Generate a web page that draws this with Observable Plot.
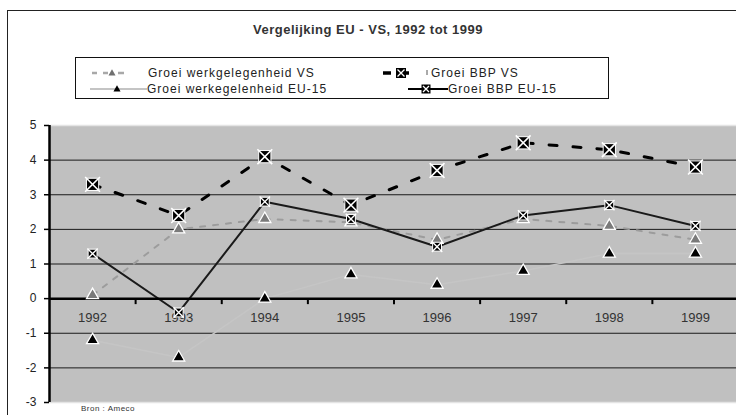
<!DOCTYPE html>
<html>
<head>
<meta charset="utf-8">
<script src="https://cdn.jsdelivr.net/npm/d3@7"></script>
<script src="https://cdn.jsdelivr.net/npm/@observablehq/plot@0.6"></script>
<style>
  html, body { margin: 0; padding: 0; background: #fff; }
  #wrap { position: relative; width: 736px; height: 415px; overflow: hidden; font-family: Arial, "Liberation Sans", sans-serif; }
  #frame { position: absolute; left: 7px; top: 10px; width: 760px; height: 420px; border-left: 1px solid #222; border-top: 1px solid #222; }
  #title { position: absolute; left: 190px; width: 356px; top: 22px; text-align: center; font-weight: bold; font-size: 13px; letter-spacing: 0.5px; color: #333; white-space: nowrap; }
  #legend { position: absolute; left: 75px; top: 57px; width: 534px; height: 42px; border: 1px solid #111; box-sizing: border-box; }
  .lg { position: absolute; font-size: 12px; letter-spacing: 1px; color: #222; white-space: nowrap; line-height: 14px; }
  #plot { position: absolute; left: 0; top: 110px; }
  #src { position: absolute; left: 81px; top: 404px; font-size: 8px; letter-spacing: 0.5px; color: #333; }
</style>
</head>
<body>
<div id="wrap">
  <div id="frame"></div>
  <div id="title">Vergelijking EU - VS, 1992 tot 1999</div>
  <div id="legend"></div>
  <div id="plot"></div>
  <div id="src">Bron : Ameco</div>
</div>
<script>
// ---- data ----
const years = [1992, 1993, 1994, 1995, 1996, 1997, 1998, 1999];
const werkVS = [0.1, 2.0, 2.3, 2.2, 1.7, 2.3, 2.1, 1.7];
const bbpVS = [3.3, 2.4, 4.1, 2.7, 3.7, 4.5, 4.3, 3.8];
const werkEU = [-1.2, -1.7, 0.0, 0.7, 0.4, 0.8, 1.3, 1.3];
const bbpEU = [1.3, -0.4, 2.8, 2.3, 1.5, 2.4, 2.7, 2.1];
const yTicks = [-3, -2, -1, 0, 1, 2, 3, 4, 5];
const xBounds = [1992.5, 1993.5, 1994.5, 1995.5, 1996.5, 1997.5, 1998.5];
const seriesNames = ["Groei werkgelegenheid VS", "Groei BBP VS", "Groei werkegelenheid EU-15", "Groei BBP EU-15"];

const mk = (vals) => years.map((y, i) => ({year: y, value: vals[i]}));
const dWerkVS = mk(werkVS), dBbpVS = mk(bbpVS), dWerkEU = mk(werkEU), dBbpEU = mk(bbpEU);
const grid = yTicks.filter(v => v !== 0 && v !== 5 && v !== -3);

const chart = Plot.plot({
  width: 736,
  height: 305,
  marginTop: 15,
  marginBottom: 13,
  marginLeft: 49,
  marginRight: 0,
  x: {type: "linear", domain: [1991.5, 1999.5], range: [49, 738], axis: null},
  y: {domain: [-3, 5], axis: null},
  style: {background: "transparent", fontFamily: "Arial, 'Liberation Sans', sans-serif", overflow: "visible"},
  marks: [
    Plot.frame({fill: "#c0c0c0", stroke: null}),
    Plot.ruleY([5, -3], {stroke: "#e4e4e4", strokeWidth: 1.5}),
    Plot.ruleY(grid, {stroke: "#1a1a1a", strokeWidth: 1}),
    // series lines
    Plot.line(dWerkEU, {x: "year", y: "value", stroke: "#c5c5c5", strokeWidth: 1.5}),
    Plot.line(dWerkVS, {x: "year", y: "value", stroke: "#9c9c9c", strokeWidth: 2, strokeDasharray: "5,8"}),
    Plot.line(dBbpVS, {x: "year", y: "value", stroke: "#000", strokeWidth: 3, strokeDasharray: "8,16"}),
    Plot.line(dBbpEU, {x: "year", y: "value", stroke: "#1a1a1a", strokeWidth: 2}),
    // axes
    Plot.ruleY([0], {stroke: "#000", strokeWidth: 2.5}),
    Plot.ruleX(xBounds, {y1: 0, y2: 0, insetBottom: -6, stroke: "#000", strokeWidth: 2}),
    Plot.ruleX([1991.5], {stroke: "#000", strokeWidth: 2.5}),
    Plot.ruleY(yTicks, {x1: 1991.5, x2: 1991.5, insetLeft: -5, stroke: "#000", strokeWidth: 1.5}),
    Plot.text(yTicks, {x: 1991.5, y: d => d, text: d => String(d), dx: -13, textAnchor: "end", fontSize: 12, fill: "#222"}),
    Plot.text(years, {x: d => d, y: 0, text: d => String(d), dy: 19, fontSize: 13, fill: "#333", style: {letterSpacing: "0.8px"}}),
    // markers
    Plot.dot(dWerkEU, {x: "year", y: "value", symbol: "triangle", r: 4.5, fill: "#000", stroke: "#fff", strokeWidth: 1.3}),
    Plot.dot(dWerkVS, {x: "year", y: "value", symbol: "triangle", r: 4.5, fill: "#7a7a7a", stroke: "#fff", strokeWidth: 1.3}),
    Plot.dot(dBbpVS, {x: "year", y: "value", symbol: "square", r: 6.9, fill: "#000", stroke: "#fff", strokeWidth: 1}),
    Plot.dot(dBbpVS, {x: "year", y: "value", symbol: "times", r: 6.8, stroke: "#fff", strokeWidth: 1.6}),
    Plot.dot(dBbpEU, {x: "year", y: "value", symbol: "square", r: 5.0, fill: "#000", stroke: "#fff", strokeWidth: 1}),
    Plot.dot(dBbpEU, {x: "year", y: "value", symbol: "times", r: 4.8, stroke: "#fff", strokeWidth: 1.4})
  ]
});
document.getElementById("plot").appendChild(chart);

// ---- legend ----
const legend = document.getElementById("legend");
const ns = "http://www.w3.org/2000/svg";
function svgEl(tag, attrs) { const e = document.createElementNS(ns, tag); for (const k in attrs) e.setAttribute(k, attrs[k]); return e; }
function tri(cx, cy, s, fill) {
  const h = s * 0.866;
  return svgEl("path", {d: `M${cx},${cy - h * 0.6}L${cx + s / 2},${cy + h * 0.4}L${cx - s / 2},${cy + h * 0.4}Z`, fill});
}
function boxX(cx, cy, s) {
  const g = svgEl("g", {});
  g.appendChild(svgEl("rect", {x: cx - s / 2, y: cy - s / 2, width: s, height: s, fill: "#000"}));
  const r = s / 2 - 1.5;
  g.appendChild(svgEl("path", {d: `M${cx - r},${cy - r}L${cx + r},${cy + r}M${cx - r},${cy + r}L${cx + r},${cy - r}`, stroke: "#fff", "stroke-width": 1.3}));
  return g;
}
// rows relative to legend box (box top = 57)
const rows = [16, 32];
const ls = svgEl("svg", {width: 534, height: 42});
ls.style.position = "absolute"; ls.style.left = "-1px"; ls.style.top = "-1px";
// werk VS: gray dashed with gray triangle
ls.appendChild(svgEl("path", {d: `M17,${rows[0]}H22M28,${rows[0]}H33M43,${rows[0]}H49`, stroke: "#a8a8a8", "stroke-width": 2.5}));
ls.appendChild(tri(37, rows[0], 7, "#707070"));
// bbp VS: black thick dash, boxed X
ls.appendChild(svgEl("path", {d: `M308,${rows[0]}H316M331,${rows[0]}H334`, stroke: "#000", "stroke-width": 3.5}));
ls.appendChild(svgEl("path", {d: `M352,${rows[0] - 3}V${rows[0] + 2}`, stroke: "#555", "stroke-width": 1}));
ls.appendChild(boxX(326, rows[0], 10));
// werk EU: light gray line with black triangle
ls.appendChild(svgEl("path", {d: `M15,${rows[1]}H72`, stroke: "#c4c4c4", "stroke-width": 2}));
ls.appendChild(tri(42, rows[1], 7, "#000"));
// bbp EU: black line with boxed X
ls.appendChild(svgEl("path", {d: `M333,${rows[1]}H373`, stroke: "#000", "stroke-width": 2}));
ls.appendChild(boxX(351, rows[1], 9));
legend.appendChild(ls);
const labelPos = [[73, rows[0]], [356, rows[0]], [72, rows[1]], [373, rows[1]]];
seriesNames.forEach((name, i) => {
  const d = document.createElement("div");
  d.className = "lg";
  d.textContent = name;
  d.style.left = (labelPos[i][0] - 1) + "px";
  d.style.top = (labelPos[i][1] - 8) + "px";
  legend.appendChild(d);
});
</script>
</body>
</html>
